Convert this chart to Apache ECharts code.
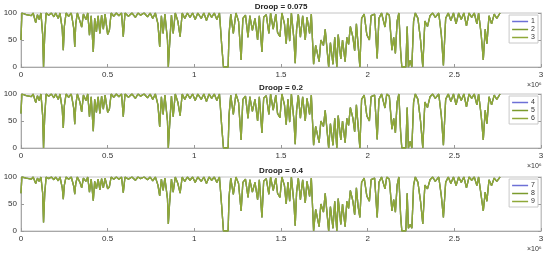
<!DOCTYPE html>
<html>
<head>
<meta charset="utf-8">
<script src="https://cdn.jsdelivr.net/npm/echarts@6/dist/echarts.min.js"></script>
<style>
  html, body { margin: 0; padding: 0; background: #fff; }
  #chart { width: 550px; height: 258px; }
</style>
</head>
<body>
<div id="chart"></div>
<script>
// x positions in units of 1e6 (shared by all series)
var xs = [
  0, 0.005, 0.03, 0.04, 0.06, 0.07, 0.085, 0.095, 0.105, 0.115,
  0.125, 0.13, 0.137, 0.145, 0.16, 0.175, 0.19, 0.2, 0.215, 0.225,
  0.238, 0.244, 0.25, 0.26, 0.275, 0.29, 0.305, 0.31, 0.316, 0.325,
  0.34, 0.35, 0.36, 0.375, 0.385, 0.395, 0.405, 0.417, 0.425, 0.435,
  0.445, 0.455, 0.465, 0.475, 0.485, 0.5, 0.51, 0.52, 0.535, 0.55,
  0.565, 0.58, 0.59, 0.6, 0.62, 0.64, 0.66, 0.675, 0.69, 0.71,
  0.73, 0.745, 0.76, 0.775, 0.79, 0.8, 0.81, 0.82, 0.83, 0.845,
  0.85, 0.857, 0.868, 0.878, 0.89, 0.905, 0.918, 0.93, 0.945, 0.96,
  0.975, 0.99, 1.005, 1.02, 1.04, 1.055, 1.07, 1.085, 1.1, 1.115,
  1.13, 1.145, 1.158, 1.168, 1.195, 1.2, 1.21, 1.225, 1.24, 1.255,
  1.27, 1.28, 1.295, 1.31, 1.32, 1.335, 1.35, 1.365, 1.375, 1.39,
  1.4, 1.415, 1.43, 1.44, 1.455, 1.47, 1.48, 1.494, 1.505, 1.52,
  1.53, 1.54, 1.55, 1.56, 1.575, 1.582, 1.59, 1.6, 1.612, 1.625,
  1.64, 1.65, 1.665, 1.675, 1.688, 1.7, 1.72, 1.73, 1.745, 1.755,
  1.775, 1.785, 1.8, 1.81, 1.822, 1.83, 1.845, 1.855, 1.87, 1.88,
  1.89, 1.9, 1.915, 1.925, 1.935, 1.945, 1.955, 1.965, 1.98, 1.995,
  2.01, 2.02, 2.04, 2.055, 2.065, 2.08, 2.1, 2.11, 2.125, 2.14,
  2.15, 2.16, 2.17, 2.18, 2.19, 2.197, 2.22, 2.228, 2.235, 2.245,
  2.255, 2.265, 2.275, 2.29, 2.305, 2.318, 2.33, 2.345, 2.36, 2.375,
  2.39, 2.41, 2.425, 2.437, 2.45, 2.465, 2.48, 2.495, 2.51, 2.525,
  2.54, 2.555, 2.57, 2.585, 2.6, 2.615, 2.63, 2.64, 2.655, 2.667,
  2.678, 2.688, 2.7, 2.715, 2.73, 2.745, 2.764
];

// Droop = 0.075
var droop1 = [
  50, 100, 97, 100, 95, 100, 82, 97, 88, 100,
  60, 0, 60, 100, 96, 100, 93, 100, 90, 100,
  70, 31, 75, 100, 94, 100, 70, 37, 80, 100,
  85, 74, 98, 88, 100, 59, 95, 28, 90, 65,
  95, 62, 96, 70, 98, 60, 68, 100, 94, 100,
  95, 100, 56, 100, 94, 100, 92, 100, 96, 100,
  93, 100, 90, 100, 80, 37, 95, 62, 98, 50,
  0, 40, 96, 62, 100, 85, 56, 100, 90, 100,
  92, 100, 88, 100, 90, 100, 86, 100, 92, 100,
  88, 100, 40, 0, 0, 60, 98, 62, 100, 85,
  13, 90, 96, 55, 95, 68, 90, 50, 95, 28,
  92, 97, 62, 100, 70, 98, 64, 56, 100, 80,
  43, 90, 48, 100, 50, 7, 70, 98, 55, 95,
  50, 92, 62, 98, 5, 40, 10, 50, 40, 70,
  0, 45, 5, 55, 0, 60, 15, 50, 10, 55,
  42, 75, 55, 30, 80, 40, 0, 90, 98, 60,
  50, 95, 98, 16, 90, 100, 74, 100, 96, 31,
  55, 25, 85, 100, 30, 0, 0, 75, 0, 12,
  0, 85, 100, 90, 50, 0, 85, 75, 95, 100,
  92, 100, 60, 3, 90, 100, 86, 100, 80, 100,
  88, 100, 76, 100, 92, 100, 80, 100, 60, 13,
  70, 43, 95, 80, 98, 90, 100
];

// Droop = 0.2
var droop2 = [
  64, 100, 97, 100, 95, 100, 84, 97, 88, 100,
  60, 0, 60, 100, 96, 100, 93, 100, 90, 100,
  72, 37, 78, 100, 94, 100, 72, 44, 80, 100,
  85, 67, 98, 88, 100, 58, 95, 31, 90, 66,
  95, 64, 96, 72, 98, 66, 72, 100, 94, 100,
  95, 100, 58, 100, 94, 100, 92, 100, 96, 100,
  93, 100, 90, 100, 80, 39, 95, 62, 98, 50,
  0, 40, 96, 58, 100, 85, 60, 100, 90, 100,
  92, 100, 88, 100, 90, 100, 86, 100, 92, 100,
  88, 100, 40, 0, 0, 60, 98, 62, 100, 85,
  15, 90, 96, 55, 95, 68, 90, 50, 95, 28,
  92, 97, 62, 100, 70, 98, 64, 56, 100, 80,
  43, 90, 48, 100, 50, 7, 70, 98, 55, 95,
  50, 92, 62, 98, 5, 40, 10, 50, 40, 70,
  0, 45, 5, 55, 0, 60, 15, 50, 10, 55,
  42, 75, 55, 30, 80, 40, 0, 90, 98, 60,
  50, 95, 98, 16, 90, 100, 74, 100, 96, 35,
  55, 28, 85, 100, 30, 0, 0, 75, 0, 12,
  0, 85, 100, 90, 50, 0, 85, 75, 95, 100,
  92, 100, 60, 5, 90, 100, 86, 100, 80, 100,
  88, 100, 76, 100, 92, 100, 80, 100, 60, 15,
  70, 45, 95, 80, 98, 90, 100
];

// Droop = 0.4
var droop3 = [
  70, 100, 98, 100, 96, 100, 88, 98, 92, 100,
  70, 16, 70, 100, 97, 100, 95, 100, 93, 100,
  80, 59, 85, 100, 96, 100, 82, 68, 88, 100,
  90, 80, 98, 92, 100, 72, 96, 56, 92, 78,
  96, 76, 97, 80, 98, 78, 82, 100, 96, 100,
  96, 100, 71, 100, 96, 100, 94, 100, 97, 100,
  95, 100, 93, 100, 85, 65, 96, 75, 98, 60,
  13, 50, 96, 72, 100, 88, 70, 100, 92, 100,
  94, 100, 90, 100, 92, 100, 88, 100, 94, 100,
  90, 100, 45, 0, 0, 62, 98, 68, 100, 88,
  37, 90, 96, 62, 95, 72, 90, 58, 95, 25,
  92, 97, 68, 100, 75, 98, 70, 62, 100, 84,
  50, 90, 55, 100, 50, 10, 72, 98, 58, 95,
  52, 92, 64, 98, 0, 40, 8, 50, 35, 70,
  0, 45, 5, 55, 0, 60, 12, 50, 8, 55,
  42, 75, 55, 30, 80, 45, 25, 90, 98, 65,
  55, 95, 98, 25, 90, 100, 78, 100, 96, 37,
  58, 35, 85, 100, 30, 0, 0, 70, 5, 12,
  5, 85, 100, 90, 55, 13, 85, 78, 95, 100,
  92, 100, 65, 25, 90, 100, 88, 100, 84, 100,
  90, 100, 80, 100, 94, 100, 84, 100, 65, 37,
  72, 55, 95, 84, 98, 92, 100
];

var titles = ['Droop = 0.075', 'Droop = 0.2', 'Droop = 0.4'];
var legendNames = [['1', '2', '3'], ['4', '5', '6'], ['7', '8', '9']];
var plotData = [droop1, droop2, droop3];
var xTicks = [0, 0.5, 1, 1.5, 2, 2.5, 3];
var yTicks = [0, 50, 100];
var colors = ['#6d70d6', '#7b9b2d', '#8fa838'];

var font = 'Liberation Sans, Arial, sans-serif';
var gridTops = [13, 94, 177];
var plotH = 54;

var chart = echarts.init(document.getElementById('chart'));

function pairs(ys) {
    return xs.map(function(x, i) { return [x, ys[i]]; });
}

var option = {
    animation: false,
    backgroundColor: '#fff',
    textStyle: { fontFamily: font },
    title: [],
    legend: [],
    grid: [],
    xAxis: [],
    yAxis: [],
    series: [],
    graphic: []
};

for (var p = 0; p < 3; p++) {
    option.grid.push({
        left: 21, right: 9, top: gridTops[p], height: plotH,
        show: true, borderColor: '#c4c4c4', borderWidth: 1
    });
    option.title.push({
        text: titles[p], left: 281, top: gridTops[p] - 10, padding: 0,
        textAlign: 'center',
        textStyle: { fontSize: 8, fontWeight: 'bold', color: '#222', fontFamily: font }
    });
    option.xAxis.push({
        type: 'value', gridIndex: p, min: 0, max: 3, interval: 0.5,
        axisLine: { show: true, onZero: false, lineStyle: { color: '#a8a8a8' } },
        axisTick: { show: true, inside: true, length: 3, lineStyle: { color: '#999' } },
        axisLabel: {
            fontSize: 8, color: '#333', margin: 4, fontFamily: font,
            formatter: function(v) { return xTicks.indexOf(v) >= 0 ? String(v) : ''; }
        },
        splitLine: { show: false }
    });
    option.yAxis.push({
        type: 'value', gridIndex: p, min: 0, max: 100, interval: 50,
        axisLine: { show: true, lineStyle: { color: '#a8a8a8' } },
        axisTick: { show: true, inside: true, length: 3, lineStyle: { color: '#999' } },
        axisLabel: { fontSize: 8, color: '#333', margin: 4, fontFamily: font },
        splitLine: { show: false }
    });
    // right-side box ticks
    option.yAxis.push({
        type: 'value', gridIndex: p, min: 0, max: 100, interval: 50, position: 'right',
        axisLine: { show: true, lineStyle: { color: '#c4c4c4' } },
        axisTick: { show: true, inside: true, length: 3, lineStyle: { color: '#999' } },
        axisLabel: { show: false },
        splitLine: { show: false }
    });
    for (var s = 0; s < 3; s++) {
        option.series.push({
            name: legendNames[p][s],
            type: 'line',
            xAxisIndex: p,
            yAxisIndex: p * 2,
            data: pairs(plotData[p]),
            symbol: 'none',
            color: colors[s],
            lineStyle: { width: 1.3, color: colors[s] },
            z: 2 + s
        });
    }
    option.legend.push({
        data: legendNames[p],
        orient: 'vertical',
        right: 12, top: gridTops[p] + 2,
        icon: 'rect',
        itemWidth: 16, itemHeight: 1.5, itemGap: 1,
        padding: [3, 3, 2, 3],
        backgroundColor: '#fff',
        borderColor: '#c8c8c8', borderWidth: 1, borderRadius: 0,
        textStyle: { fontSize: 7, color: '#333', lineHeight: 7, fontFamily: font, padding: [0, 0, 0, -2] }
    });
    option.graphic.push({
        type: 'text', left: 527, top: gridTops[p] + plotH + 15,
        style: { text: '\u00d710\u2076', fontSize: 7, fill: '#333', fontFamily: font }
    });
}

chart.setOption(option);
</script>
</body>
</html>
